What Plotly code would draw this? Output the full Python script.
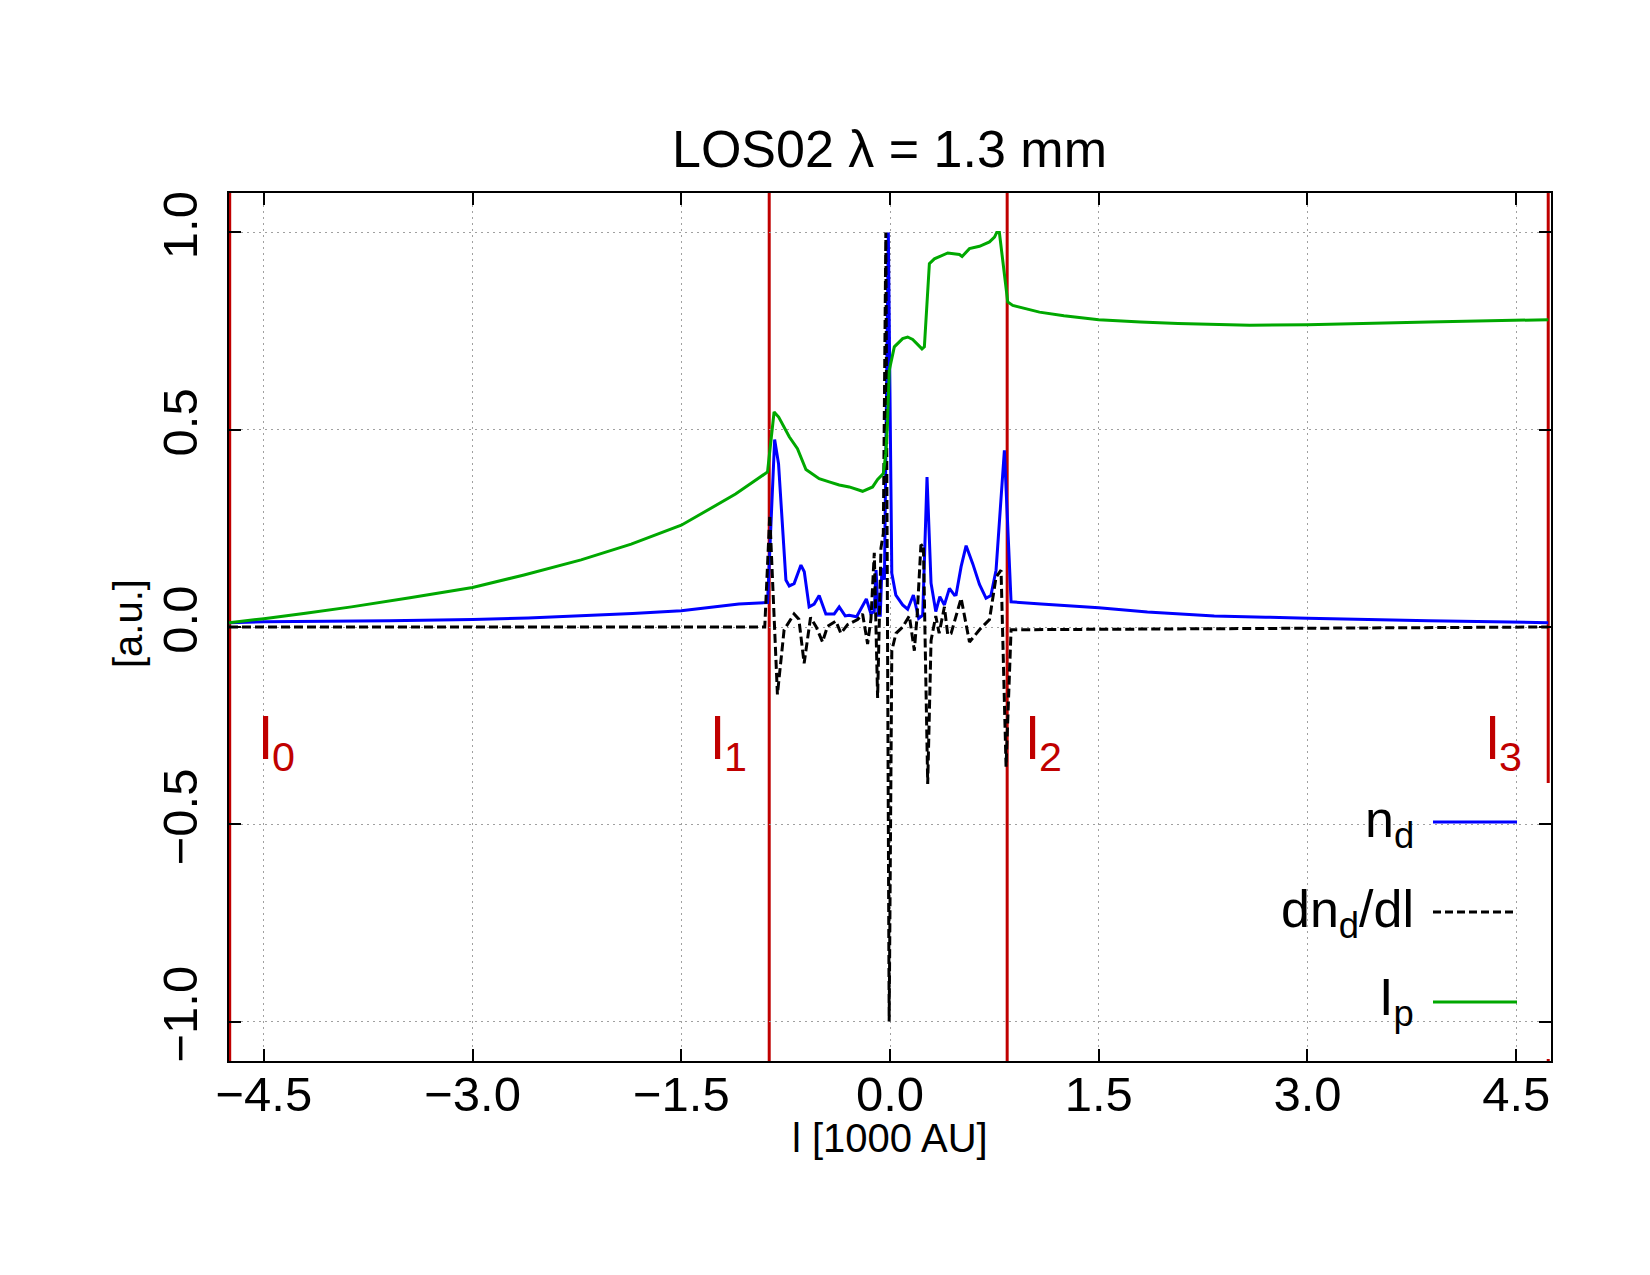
import plotly.graph_objects as go

# ---------------- data ----------------
boundaries = [-4.745, -0.868, 0.842, 4.73]
boundary_labels = ["l<sub>0</sub>", "l<sub>1</sub>", "l<sub>2</sub>", "l<sub>3</sub>"]

x_ticks = [-4.5, -3.0, -1.5, 0.0, 1.5, 3.0, 4.5]
y_ticks = [-1.0, -0.5, 0.0, 0.5, 1.0]

# n_d  (blue)
x_nd = [-4.75, -4.5, -3.6, -3.0, -2.6, -2.22, -1.85, -1.5, -1.2, -1.086, -0.88, -0.829,
        -0.801, -0.772, -0.748,
        -0.724, -0.689, -0.640, -0.616, -0.581, -0.545, -0.509, -0.461, -0.401, -0.365,
        -0.322, -0.293, -0.240, -0.170, -0.137, -0.113, -0.100, -0.085, -0.070, -0.058,
        -0.040, -0.012, 0.013, 0.042, 0.091, 0.127, 0.168, 0.206, 0.235, 0.266, 0.295,
        0.329, 0.358, 0.391, 0.427, 0.463, 0.475, 0.511, 0.547, 0.595, 0.643, 0.690,
        0.725, 0.762, 0.822, 0.870, 1.086, 1.5, 1.85, 2.33, 2.7, 3.0, 3.87, 4.73]
y_nd = [0.011, 0.013, 0.016, 0.019, 0.023, 0.028, 0.034, 0.041, 0.052, 0.058, 0.062, 0.475,
        0.414, 0.263, 0.119,
        0.104, 0.110, 0.157, 0.140, 0.051, 0.058, 0.080, 0.033, 0.033, 0.051,
        0.028, 0.030, 0.026, 0.071, 0.033, 0.040, 0.144, 0.030, 0.030, 0.150,
        0.120, 1.0, 0.136, 0.081, 0.056, 0.045, 0.081, 0.022, 0.030, 0.380, 0.111,
        0.039, 0.077, 0.056, 0.098, 0.081, 0.082, 0.153, 0.206, 0.160, 0.108, 0.073,
        0.080, 0.144, 0.448, 0.064, 0.058, 0.049, 0.038, 0.028, 0.025, 0.022, 0.016, 0.011]

# dn_d/dl  (black dashed)
x_dnd = [-4.75, -0.90, -0.864, -0.809, -0.761, -0.689, -0.655, -0.617, -0.571, -0.530,
         -0.485, -0.449, -0.389, -0.353, -0.305, -0.233, -0.197, -0.161, -0.137, -0.113,
         -0.089, -0.065, -0.048, -0.030, -0.006, 0.013, 0.043, 0.091, 0.139, 0.175,
         0.195, 0.222, 0.240, 0.271, 0.295, 0.329, 0.353, 0.391, 0.415, 0.439, 0.475,
         0.511, 0.571, 0.643, 0.715, 0.762, 0.798, 0.834, 0.870, 4.73]
y_dnd = [0.0, 0.0, 0.284, -0.171, -0.007, 0.033, 0.020, -0.092, 0.024, 0.000,
         -0.038, 0.002, 0.015, -0.016, 0.006, 0.019, 0.033, -0.043, 0.020, 0.188,
         -0.180, 0.200, 0.237, 1.0, -1.0, -0.060, -0.016, 0.0, 0.028, -0.060,
         0.030, 0.206, 0.210, -0.398, -0.034, 0.028, -0.016, 0.051, -0.020, -0.016, 0.028,
         0.073, -0.038, -0.007, 0.019, 0.126, 0.144, -0.354, -0.007, 0.0]

# I_p  (green)
x_ip = [-4.75, -4.5, -4.2, -3.87, -3.45, -3.0, -2.63, -2.22, -1.86, -1.66, -1.5, -1.40,
        -1.25, -1.11, -0.99, -0.88,
        -0.833, -0.80, -0.724, -0.665, -0.604, -0.509, -0.437, -0.365, -0.293, -0.197,
        -0.125, -0.089, -0.048, -0.030, -0.018, -0.005, 0.031, 0.091, 0.127, 0.163,
        0.230, 0.247, 0.283, 0.319, 0.415, 0.499, 0.518, 0.571, 0.643, 0.715, 0.751,
        0.767, 0.786, 0.846, 0.882, 1.074, 1.25, 1.5, 1.8, 2.07, 2.585, 3.0, 3.87, 4.73]
y_ip = [0.011, 0.021, 0.035, 0.051, 0.074, 0.100, 0.132, 0.170, 0.210, 0.236, 0.258, 0.278,
        0.308, 0.337, 0.366, 0.393,
        0.545, 0.532, 0.482, 0.452, 0.399, 0.376, 0.368, 0.360, 0.355, 0.344,
        0.355, 0.374, 0.389, 0.440, 0.516, 0.651, 0.710, 0.731, 0.735, 0.729,
        0.705, 0.710, 0.921, 0.933, 0.948, 0.944, 0.939, 0.959, 0.965, 0.976, 0.988,
        1.0, 1.0, 0.824, 0.815, 0.798, 0.789, 0.779, 0.773, 0.769, 0.765, 0.766, 0.773, 0.779]

legend_names = ["n<sub>d</sub>", "dn<sub>d</sub>/dl", "I<sub>p</sub>"]

# ---------------- styling ----------------
W, H = 1650, 1275
ML, MR, MT, MB = 229, 99, 193, 214
PW, PH = W - ML - MR, H - MT - MB
FONT = "Liberation Sans"
BLUE, BLACK, GREEN, RED = "#0000ff", "#000000", "#00a800", "#c00000"


def px(X):
    return (X - ML) / PW


def py(Y):
    return (H - MB - Y) / PH


fig = go.Figure()
fig.add_trace(go.Scatter(x=x_nd, y=y_nd, mode="lines", line=dict(color=BLUE, width=3),
                         name="n_d", showlegend=False))
fig.add_trace(go.Scatter(x=x_dnd, y=y_dnd, mode="lines",
                         line=dict(color=BLACK, width=3, dash="9px,4px"),
                         name="dn_d/dl", showlegend=False))
fig.add_trace(go.Scatter(x=x_ip, y=y_ip, mode="lines", line=dict(color=GREEN, width=3),
                         name="I_p", showlegend=False))

shapes = []
for b in boundaries:
    shapes.append(dict(type="line", xref="x", yref="paper", x0=b, x1=b, y0=0, y1=1,
                       line=dict(color=RED, width=3), layer="between"))
# opaque key box (hides grid and boundary line behind the key)
shapes.append(dict(type="rect", xref="paper", yref="paper", x0=px(1325), x1=px(1550),
                   y0=py(1059), y1=py(783), fillcolor="white", line=dict(width=0),
                   layer="between"))
sample_styles = [dict(color=BLUE, width=3), dict(color=BLACK, width=3, dash="8px,4px"),
                 dict(color=GREEN, width=3)]
sample_y = [822, 912, 1002]
for st, yy in zip(sample_styles, sample_y):
    shapes.append(dict(type="line", xref="paper", yref="paper", x0=px(1433), x1=px(1517),
                       y0=py(yy), y1=py(yy), line=st, layer="above"))

annotations = []
annotations.append(dict(text="LOS02 λ = 1.3 mm", xref="paper", yref="paper",
                        x=px(889), y=py(118), xanchor="center", yanchor="top",
                        showarrow=False, font=dict(family=FONT, size=52, color="black")))
annotations.append(dict(text="l [1000 AU]", xref="paper", yref="paper",
                        x=px(890), y=py(1114), xanchor="center", yanchor="top",
                        showarrow=False, font=dict(family=FONT, size=40, color="black")))
annotations.append(dict(text="[a.u.]", xref="paper", yref="paper", textangle=-90,
                        x=px(128), y=py(624), xanchor="center", yanchor="middle",
                        showarrow=False, font=dict(family=FONT, size=40, color="black")))

label_pos = [(-4.55, "left"), (-1.012, "right"), (0.965, "left"), (4.555, "right")]
for (lx, anc), txt in zip(label_pos, boundary_labels):
    annotations.append(dict(text=txt, xref="x", yref="paper", x=lx, y=py(704),
                            xanchor=anc, yanchor="top", showarrow=False,
                            font=dict(family=FONT, size=59, color=RED)))

legend_top = [788, 878, 966]
for txt, yt in zip(legend_names, legend_top):
    annotations.append(dict(text=txt, xref="paper", yref="paper", x=px(1416), y=py(yt),
                            xanchor="right", yanchor="top", showarrow=False,
                            font=dict(family=FONT, size=52, color="black")))

axis_common = dict(showline=True, linecolor="black", linewidth=2, mirror="ticks",
                   ticks="inside", ticklen=12, tickwidth=2, tickcolor="black",
                   showgrid=True, gridcolor="#a0a0a0", gridwidth=1, griddash="2px,4px",
                   zeroline=False, tickformat=".1f",
                   tickfont=dict(family=FONT, size=49, color="black"))

fig.update_layout(
    width=W, height=H,
    margin=dict(l=ML, r=MR, t=MT, b=MB, pad=0),
    paper_bgcolor="white", plot_bgcolor="white",
    showlegend=False,
    xaxis=dict(range=[-4.75, 4.75], tickvals=x_ticks, ticklabelstandoff=-11, **axis_common),
    yaxis=dict(range=[-1.1, 1.1], tickvals=y_ticks, tickangle=-90, ticklabelstandoff=10,
               **axis_common),
    shapes=shapes,
    annotations=annotations,
)

fig.write_html("out.html")
